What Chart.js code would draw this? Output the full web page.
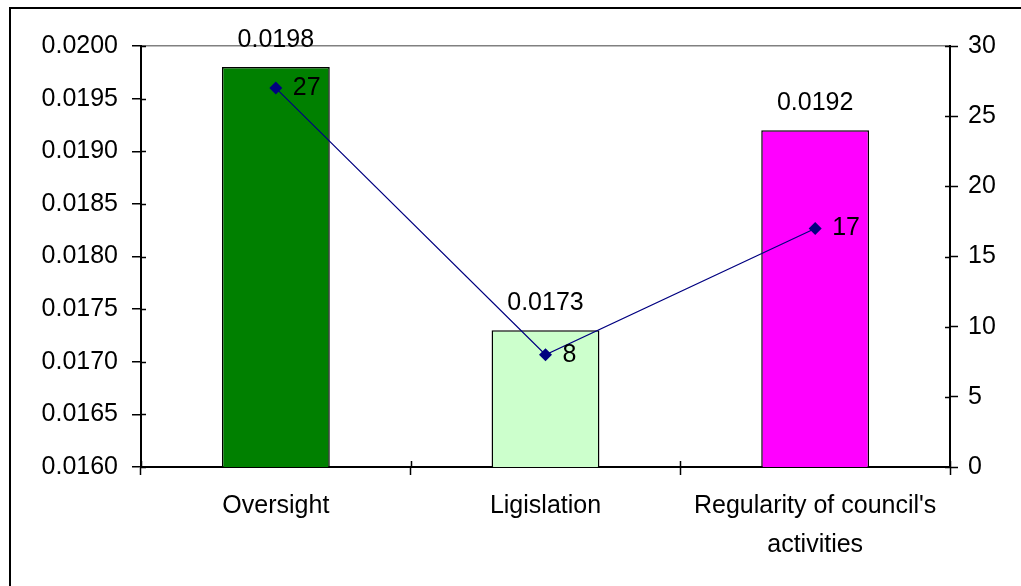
<!DOCTYPE html>
<html>
<head>
<meta charset="utf-8">
<script src="https://cdn.jsdelivr.net/npm/chart.js@4/dist/chart.umd.min.js"></script>
<style>
  html, body { margin: 0; padding: 0; background: #fff; }
  #chart { display: block; }
</style>
</head>
<body>
<canvas id="chart" width="1021" height="586"></canvas>
<script>
var categories = ["Oversight", "Ligislation", ["Regularity of council's", "activities"]];
var ratioValues = [0.0198, 0.0173, 0.0192];
var countValues = [27, 8, 17];
var barColors = ["#008000", "#ccffcc", "#ff00ff"];

var FONT = { family: "'Liberation Sans', Arial, sans-serif", size: 25 };

// frame around the whole chart and the short tick stubs inside the plot
var framePlugin = {
    id: "frame",
    beforeDraw: function (chart) {
        var ctx = chart.ctx;
        ctx.save();
        ctx.fillStyle = "#fff";
        ctx.fillRect(0, 0, chart.width, chart.height);
        ctx.strokeStyle = "#000";
        ctx.lineWidth = 2;
        ctx.strokeRect(10, 8, chart.width + 20, chart.height + 20);
        ctx.restore();
    },
    afterDraw: function (chart) {
        var ctx = chart.ctx;
        var y = chart.scales.y, y1 = chart.scales.y1, x = chart.scales.x;
        ctx.save();
        ctx.strokeStyle = "#000";
        ctx.lineWidth = 1.5;
        ctx.beginPath();
        y.ticks.forEach(function (t, i) {
            var py = Math.round(y.getPixelForTick(i)) + 0.5;
            ctx.moveTo(y.right, py);
            ctx.lineTo(y.right + 5, py);
        });
        y1.ticks.forEach(function (t, i) {
            var py = Math.round(y1.getPixelForTick(i)) + 0.5;
            ctx.moveTo(y1.left - 5, py);
            ctx.lineTo(y1.left, py);
        });
        for (var i = 0; i <= x.ticks.length; i++) {
            var px = x.left + (x.right - x.left) * i / x.ticks.length;
            ctx.moveTo(Math.round(px) + 0.5, x.top);
            ctx.lineTo(Math.round(px) + 0.5, x.top - 6);
        }
        ctx.stroke();
        ctx.restore();
    }
};

// value labels above the bars and beside the line markers
var valueLabels = {
    id: "valueLabels",
    afterDatasetsDraw: function (chart) {
        var ctx = chart.ctx;
        ctx.save();
        ctx.font = FONT.size + "px " + FONT.family;
        ctx.fillStyle = "#000";
        ctx.textBaseline = "middle";

        var bars = chart.getDatasetMeta(1);
        ctx.textAlign = "center";
        bars.data.forEach(function (el, i) {
            ctx.fillText(ratioValues[i].toFixed(4), el.x, el.y - 27);
        });

        var line = chart.getDatasetMeta(0);
        ctx.textAlign = "left";
        line.data.forEach(function (el, i) {
            ctx.fillText(String(countValues[i]), el.x + 17, el.y);
        });
        ctx.restore();
    }
};

var chart = new Chart(document.getElementById("chart"), {
    type: "bar",
    data: {
        labels: categories,
        datasets: [
            {
                type: "line",
                label: "Count",
                data: countValues,
                yAxisID: "y1",
                borderColor: "#000080",
                borderWidth: 1.2,
                backgroundColor: "#000080",
                pointStyle: "rectRot",
                pointRadius: 6.5,
                pointBorderWidth: 0,
                tension: 0,
                order: 0
            },
            {
                label: "Ratio",
                data: ratioValues,
                yAxisID: "y",
                backgroundColor: barColors,
                borderColor: "#000",
                borderWidth: 1.5,
                barPercentage: 0.4,
                categoryPercentage: 1,
                order: 1
            }
        ]
    },
    options: {
        responsive: false,
        animation: false,
        layout: { padding: { top: 46, left: 0, right: 0, bottom: 0 } },
        plugins: {
            legend: { display: false },
            tooltip: { enabled: false }
        },
        scales: {
            x: {
                offset: true,
                border: { color: "#000", width: 2 },
                grid: {
                    offset: true,
                    drawOnChartArea: false,
                    tickLength: 8,
                    tickColor: "#000",
                    tickWidth: 1.5
                },
                ticks: {
                    color: "#000",
                    font: { family: FONT.family, size: FONT.size, lineHeight: 1.55 },
                    padding: 12,
                    maxRotation: 0,
                    autoSkip: false
                },
                afterFit: function (scale) { scale.height = 119; }
            },
            y: {
                position: "left",
                min: 0.016,
                max: 0.02,
                border: { color: "#000", width: 2 },
                grid: {
                    color: function (c) {
                        return c.index === 8 ? "#808080" : "rgba(0,0,0,0)";
                    },
                    lineWidth: 1.5,
                    tickLength: 9,
                    tickColor: "#000",
                    tickWidth: 1.5
                },
                ticks: {
                    stepSize: 0.0005,
                    color: "#000",
                    font: FONT,
                    padding: 14,
                    callback: function (v) { return v.toFixed(4); }
                },
                afterFit: function (scale) { scale.width = 141; }
            },
            y1: {
                position: "right",
                min: 0,
                max: 30,
                border: { color: "#000", width: 2 },
                grid: {
                    drawOnChartArea: false,
                    tickLength: 8,
                    tickColor: "#000",
                    tickWidth: 1.5
                },
                ticks: {
                    stepSize: 5,
                    color: "#000",
                    font: FONT,
                    padding: 10
                },
                afterFit: function (scale) { scale.width = 71; }
            }
        }
    },
    plugins: [framePlugin, valueLabels]
});
</script>
</body>
</html>
